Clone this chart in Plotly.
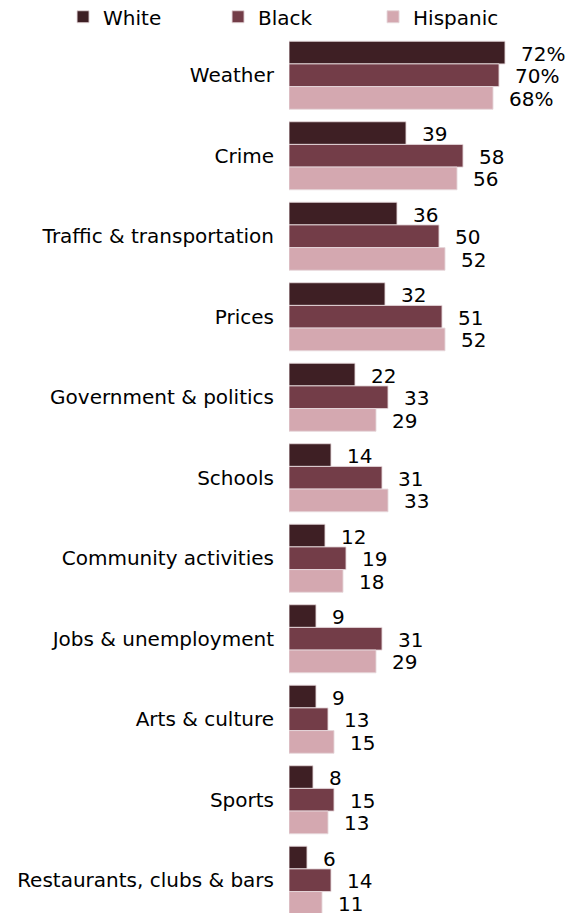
import plotly.graph_objects as go

categories = ["Weather", "Crime", "Traffic & transportation", "Prices",
              "Government & politics", "Schools", "Community activities",
              "Jobs & unemployment", "Arts & culture", "Sports",
              "Restaurants, clubs & bars"]
white = [72, 39, 36, 32, 22, 14, 12, 9, 9, 8, 6]
black = [70, 58, 50, 51, 33, 31, 19, 31, 13, 15, 14]
hispanic = [68, 56, 52, 52, 29, 33, 18, 29, 15, 13, 11]
series_names = ["White", "Black", "Hispanic"]
colors = ["#3e1f24", "#733d48", "#d4a8b0"]

FONT = "DejaVu Sans"
fig = go.Figure()
for name, vals, col in zip(series_names, [white, black, hispanic], colors):
    fig.add_trace(go.Bar(
        y=categories, x=vals, name=name, orientation="h",
        marker=dict(color=col, line=dict(color="rgba(230,215,218,0.9)", width=1)),
        hoverinfo="x+y",
    ))

bar_px = 22.7
shifts = [bar_px, 0, -bar_px]
for si, vals in enumerate([white, black, hispanic]):
    for ci, v in enumerate(vals):
        txt = f"{v}%" if ci == 0 else f"{v}"
        fig.add_annotation(x=v, y=categories[ci], text=txt, showarrow=False,
                           xanchor="left", yanchor="middle", xshift=14,
                           yshift=shifts[si] - 1,
                           font=dict(family=FONT, size=20, color="#000000"))

fig.update_layout(
    width=569, height=913,
    margin=dict(l=289, r=0, t=35, b=0, autoexpand=False),
    paper_bgcolor="white", plot_bgcolor="white",
    barmode="group", bargap=0.155, bargroupgap=0,
    font=dict(family=FONT, size=20, color="#000000"),
    showlegend=True,
    legend=dict(orientation="h", xref="paper", yref="paper",
                x=-0.807, y=1.043, xanchor="left", yanchor="top",
                traceorder="normal",
                entrywidth=110, entrywidthmode="pixels",
                font=dict(family=FONT, size=20, color="#000000"),
                bgcolor="rgba(0,0,0,0)"),
    xaxis=dict(range=[0, 93.33], visible=False, fixedrange=True),
    yaxis=dict(categoryorder="array", categoryarray=categories,
               range=[10.407, -0.5], showline=False, showgrid=False,
               ticks="", ticklabelstandoff=14, tickfont=dict(family=FONT, size=20, color="#000000"),
               fixedrange=True),
)
fig.write_html("out.html")
